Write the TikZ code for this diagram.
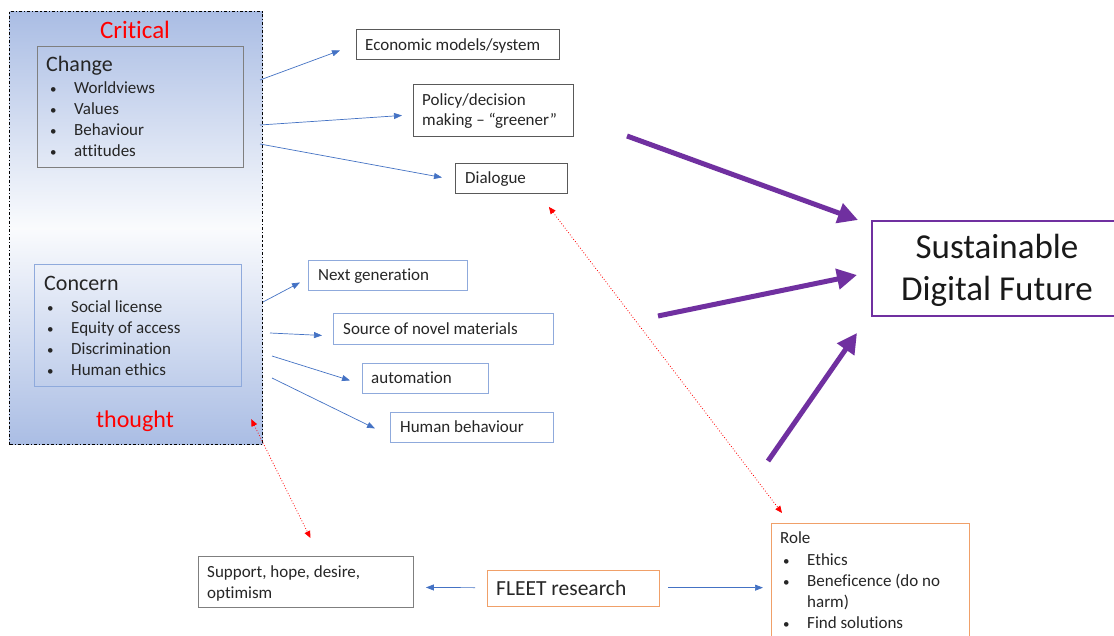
\documentclass[tikz,border=0pt]{standalone}
\usepackage{fontspec}
\setmainfont{Carlito}[Ligatures=NoCommon]
\usetikzlibrary{arrows.meta,calc}
\definecolor{mainblue}{RGB}{170,189,228}
\definecolor{arrblue}{RGB}{68,114,196}
\definecolor{lblue}{RGB}{143,170,220}
\definecolor{dgray}{RGB}{89,89,89}
\definecolor{mgray}{RGB}{127,127,127}
\definecolor{orng}{RGB}{240,160,105}
\definecolor{purp}{RGB}{112,48,160}
\definecolor{redt}{RGB}{255,0,0}
\newcommand\fsz[1]{\fontsize{#1}{#1}\selectfont}
\tikzset{
  boxd/.style={draw=dgray, line width=0.9pt, rectangle, inner sep=0pt, anchor=north west},
  boxb/.style={draw=lblue, line width=0.9pt, rectangle, inner sep=0pt, anchor=north west},
  boxo/.style={draw=orng, line width=1.3pt, rectangle, inner sep=0pt, anchor=north west},
  txt/.style={anchor=base west, inner sep=0pt, font=\fsz{17}, text=black!85},
  bluearrow/.style={draw=arrblue, line width=0.7pt, -{Triangle[length=8pt,width=6pt]}},
  redarrow/.style={draw=redt, line width=0.8pt, dotted, {Triangle[length=7pt,width=6pt]}-{Triangle[length=7pt,width=6pt]}},
  purparrow/.style={draw=purp, line width=5pt, -{Triangle[length=20pt,width=20pt]}},
}
\newcommand\bul[1]{\makebox[24pt][l]{\fsz{13}•}#1}
\begin{document}
\begin{tikzpicture}[x=1pt,y=-1pt]
\clip (0,0) rectangle (1114,635);
\fill[white] (0,0) rectangle (1114,635);
% main box
\node[rectangle, anchor=north west, inner sep=0pt, minimum width=253pt, minimum height=433pt,
  draw=black, line width=1.2pt, dash dot, top color=mainblue, bottom color=mainblue, middle color=white!94!mainblue] (main) at (9,11) {};
\node[font=\fsz{25}, text=redt] (crit) at (135,30) {Critical};
\node[font=\fsz{24}, text=redt] (thought) at (135,421) {thought};
% change box
\node[boxd, draw=mgray, minimum width=206pt, minimum height=121pt] (change) at (37,46) {};
\node[txt, font=\fsz{22}] (changet) at (46,71) {Change};
\node[txt] (ch1) at (50,93.5) {\bul{Worldviews}};
\node[txt] (ch2) at (50,114.5) {\bul{Values}};
\node[txt] (ch3) at (50,135.5) {\bul{Behaviour}};
\node[txt] (ch4) at (50,156.5) {\bul{attitudes}};
% concern box
\node[boxb, minimum width=207pt, minimum height=122pt] (concern) at (34,264) {};
\node[txt, font=\fsz{22}] (concernt) at (44,290) {Concern};
\node[txt] (co1) at (47,312.5) {\bul{Social license}};
\node[txt] (co2) at (47,333.5) {\bul{Equity of access}};
\node[txt] (co3) at (47,354.5) {\bul{Discrimination}};
\node[txt] (co4) at (47,375.5) {\bul{Human ethics}};
% right boxes top
\node[boxd, minimum width=203pt, minimum height=30pt] (eco) at (356,29) {};
\node[txt] (ecot) at (365,50) {Economic models/system};
\node[boxd, minimum width=160pt, minimum height=52pt] (policy) at (413,84) {};
\node[txt] (policyt1) at (422,105.5) {Policy/decision};
\node[txt] (policyt2) at (422,125.5) {making – “greener”};
\node[boxd, minimum width=112pt, minimum height=30pt] (dialogue) at (455,163) {};
\node[txt] (dialoguet) at (465,183.5) {Dialogue};
% right boxes bottom
\node[boxb, minimum width=159pt, minimum height=30pt] (nextgen) at (308,260) {};
\node[txt] (nextgent) at (318,280.5) {Next generation};
\node[boxb, minimum width=220pt, minimum height=31pt] (source) at (333,313) {};
\node[txt] (sourcet) at (343,334) {Source of novel materials};
\node[boxb, minimum width=126pt, minimum height=30pt] (auto) at (362,363) {};
\node[txt] (autot) at (371,383.5) {automation};
\node[boxb, minimum width=163pt, minimum height=30pt] (human) at (390,412) {};
\node[txt] (humant) at (400,432.5) {Human behaviour};
% sustainable
\node[rectangle, draw=purp, line width=2pt, anchor=north west, inner sep=0pt, minimum width=260pt, minimum height=95pt] (sdf) at (871,220) {};
\node[anchor=base, inner sep=0pt, font=\fsz{35}, text=black!90] (sdf1) at (997,258) {Sustainable};
\node[anchor=base, inner sep=0pt, font=\fsz{35}, text=black!90] (sdf2) at (997,300) {Digital Future};
% bottom boxes
\node[boxd, draw=mgray, minimum width=215pt, minimum height=51pt] (support) at (198,556) {};
\node[txt] (supportt1) at (207,577.5) {Support, hope, desire,};
\node[txt] (supportt2) at (207,598.5) {optimism};
\node[boxo, minimum width=172pt, minimum height=36pt] (fleet) at (487,570) {};
\node[txt, font=\fsz{21.5}] (fleett) at (496,595) {FLEET research};
\node[boxo, minimum width=198pt, minimum height=140pt] (role) at (771,523) {};
\node[txt] (rolet) at (780,543.5) {Role};
\node[txt] (ro1) at (783,565.5) {\bul{Ethics}};
\node[txt] (ro2) at (783,586.5) {\bul{Beneficence (do no}};
\node[txt] (ro2b) at (807,607.5) {harm)};
\node[txt] (ro3) at (783,628) {\bul{Find solutions}};
% start coordinates
\coordinate (s1) at (260,80);
\coordinate (s2) at (260,125);
\coordinate (s3) at (260,144);
\coordinate (s4) at (263,302);
\coordinate (s5) at (270,333);
\coordinate (s6) at (272,356);
\coordinate (s7) at (272,378);
\coordinate (p1) at (627,136);
\coordinate (p2) at (658,316);
\coordinate (p3) at (768,461);
% blue arrows
\draw[bluearrow] (s1) -- ($(eco.west)+(-16,6)$);
\draw[bluearrow] (s2) -- ($(policy.west)+(-11,5)$);
\draw[bluearrow] (s3) -- ($(dialogue.west)+(-13,-1)$);
\draw[bluearrow] (s4) -- ($(nextgen.west)+(-8,7)$);
\draw[bluearrow] (s5) -- ($(source.west)+(-11,6.5)$);
\draw[bluearrow] (s6) -- ($(auto.west)+(-12,2)$);
\draw[bluearrow] (s7) -- ($(human.west)+(-15,1)$);
\draw[bluearrow] ($(fleet.west)+(-12,-1)$) -- ($(support.east)+(12,5.5)$);
\draw[bluearrow] ($(fleet.east)+(8,-1)$) -- ($(role.west |- fleet.east)+(-8,-1)$);
% red dotted
\draw[redarrow] ($(dialogue.south east)+(-19,13)$) -- ($(role.north west)+(11,-10)$);
\draw[redarrow] ($(main.south east)+(-12,-26)$) -- ($(support.north)+(4.5,-18)$);
% purple arrows
\draw[purparrow] (p1) -- ($(sdf.north west)+(-13,0)$);
\draw[purparrow] (p2) -- ($(sdf.west)+(-14,6.5)$);
\draw[purparrow] (p3) -- ($(sdf.south west)+(-14,16)$);
\end{tikzpicture}
\end{document}
